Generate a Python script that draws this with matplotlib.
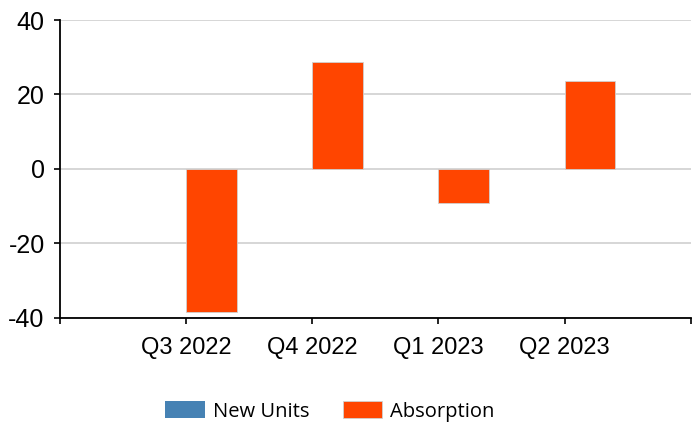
import matplotlib.pyplot as plt
import numpy as np

quarters = ["Q3 2022", "Q4 2022", "Q1 2023", "Q2 2023"]
new_units = [0, 0, 0, 0]
absorption = [-38.5, 28.6, -9.2, 23.7]

blue = "#4682B4"
orange = "#FF4500"

plt.rcParams["axes.unicode_minus"] = False

fig = plt.figure(figsize=(6.93, 4.23), dpi=100)
ax = fig.add_axes([0.0866, 0.2489, 0.9101, 0.7038])

x = np.arange(1, len(quarters) + 1)
width = 0.4

# New Units on the left of each tick, Absorption on the right
ax.bar(x - width, new_units, width=width, align="edge", color=blue,
       linewidth=0, label="New Units", zorder=3)
ax.bar(x, absorption, width=width, align="edge", color=orange,
       edgecolor="#d0d0d0", linewidth=0.6, label="Absorption", zorder=3)

ax.set_xlim(0, len(quarters) + 1)
ax.set_ylim(-40, 40)
ax.set_yticks([-40, -20, 0, 20, 40])
ax.set_xticks(np.arange(0, len(quarters) + 2))
ax.set_xticklabels([""] + quarters + [""])

ax.grid(axis="y", color="#d3d3d3", linewidth=1.3, zorder=0)
for s in ["top", "right"]:
    ax.spines[s].set_visible(False)
for s in ["left", "bottom"]:
    ax.spines[s].set_linewidth(1.3)
    ax.spines[s].set_color("black")

ax.tick_params(axis="y", direction="out", length=4, width=1.2, pad=7,
               labelsize=18)
ax.tick_params(axis="x", direction="out", length=4, width=1.2, pad=10,
               labelsize=17)
for lbl in ax.get_xticklabels() + ax.get_yticklabels():
    lbl.set_fontfamily("Liberation Sans")

fig.legend(loc="center", bbox_to_anchor=(0.476, 0.027), ncol=2, frameon=False,
           prop={"family": "Open Sans", "size": 14.5},
           handlelength=1.95, handleheight=0.9, handletextpad=0.4,
           columnspacing=1.65)

fig.savefig("out.png", dpi=100)
